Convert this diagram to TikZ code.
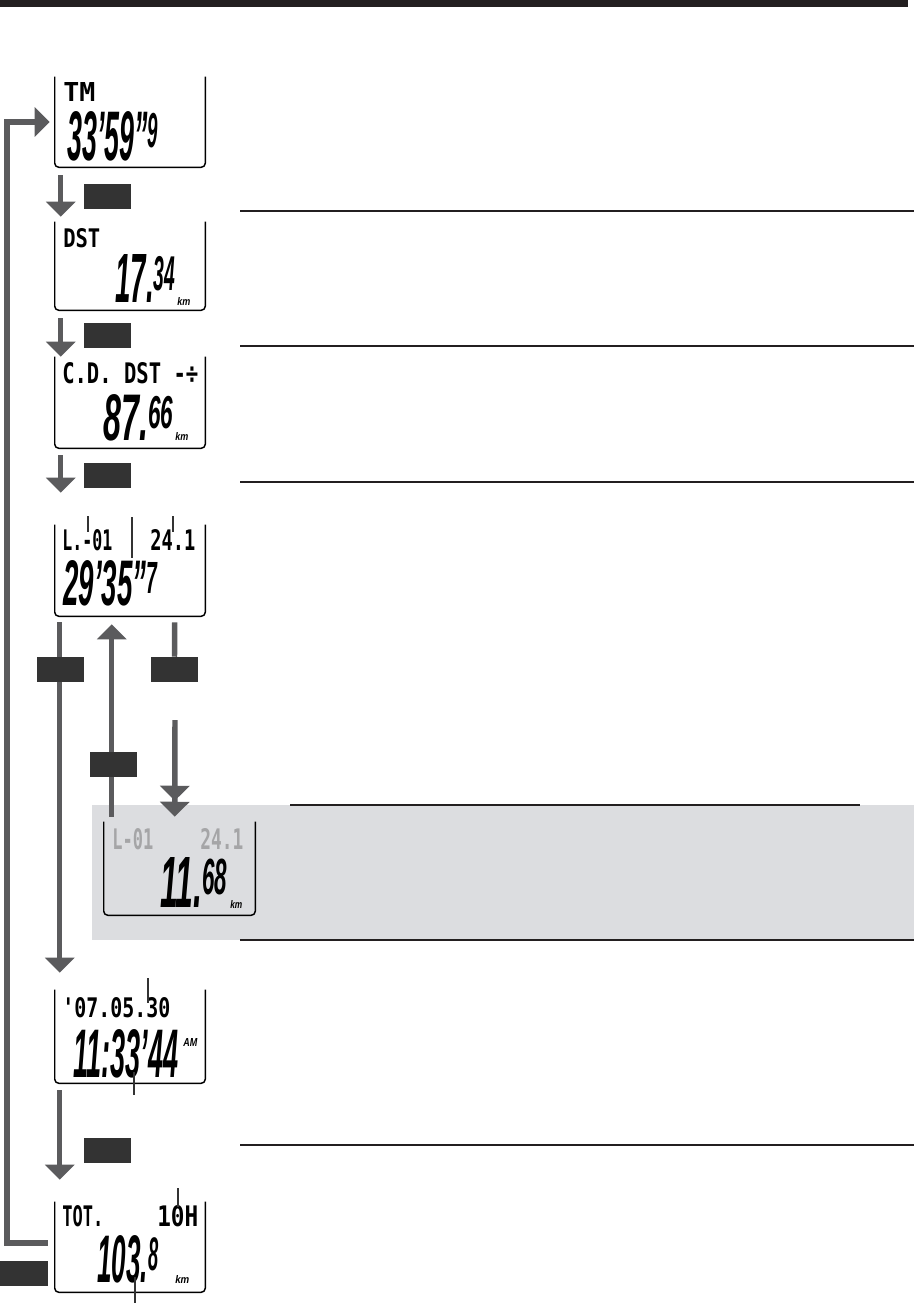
\documentclass[tikz,border=0pt]{standalone}
\usepackage{graphicx}
\usepackage{fontspec}
\setmainfont{Liberation Sans}
\newfontfamily\dotfont{DejaVu Sans Mono}
\usetikzlibrary{arrows.meta}
\definecolor{flowgray}{HTML}{5B5B5D}
\definecolor{btngray}{HTML}{333333}
\definecolor{bandgray}{HTML}{DCDDE0}
\definecolor{rulegray}{HTML}{231F20}
\definecolor{dimtext}{HTML}{A5A5A7}
\newlength\px \setlength\px{0.75pt}
\newcommand\fit[3]{\resizebox{#1\px}{#2\px}{#3}}
\newcommand\segbig[1]{{\fontsize{20pt}{20pt}\selectfont #1}}
\newcommand\segsml[1]{\raisebox{3.5pt}{\fontsize{14pt}{14pt}\selectfont #1}}
\tikzset{
  lcd/.style={rectangle, inner sep=0pt, minimum width=112.5pt, minimum height=68pt},
  frame/.style={draw=black, line width=1.1pt, rounded corners=3pt},
  txt/.style={inner sep=0pt, anchor=north west},
  hdr/.style={txt, font=\dotfont\bfseries},
  seg/.style={txt, font=\bfseries\itshape},
  unit/.style={txt, font=\bfseries\itshape},
  flowline/.style={draw=flowgray, line width=4.1pt},
  flow/.style={flowline, -{Triangle[length=11.25pt, width=21.75pt]}},
  btn/.style={fill=btngray, inner sep=0pt, minimum width=35.25pt, minimum height=18.75pt},
  rule/.style={draw=rulegray, line width=1.5pt},
  leader/.style={draw=btngray, line width=0.9pt}
}
\begin{document}
\begin{tikzpicture}[x=0.75pt, y=-0.75pt]
\useasboundingbox (0,0) rectangle (914,1306);
% top bar and shaded band
\fill[rulegray] (0,0) rectangle (908,7);
\fill[bandgray] (92,805) rectangle (914,940);
% rules on the right
\draw[rule] (240,211) -- (914,211);
\draw[rule, line width=1pt] (240,346) -- (914,346);
\draw[rule] (240,482) -- (914,482);
\draw[rule] (290,805) -- (860,805);
\draw[rule] (240,940) -- (914,940);
\draw[rule, line width=0.8pt] (240,1145) -- (914,1145);
% displays
\node[lcd, minimum height=67.5pt] (tm) at (130,122) {};
\node[lcd, minimum height=66pt] (dst) at (130,266) {};
\node[lcd, minimum height=68.25pt] (cd) at (130,402.5) {};
\node[lcd, minimum height=68.25pt] (lap) at (130,570.5) {};
\node[lcd, minimum width=113.25pt, minimum height=69.75pt] (lapd) at (179.5,868.5) {};
\node[lcd, minimum height=69.75pt] (clk) at (130,1036.5) {};
\node[lcd, minimum height=67.5pt] (tot) at (130,1247) {};
\foreach \d in {tm,dst,cd,lap,lapd,clk,tot}
  \draw[frame] (\d.north west) -- (\d.south west) -- (\d.south east) -- (\d.north east);
% display texts
\node[hdr] (tmhd) at (63,82) {\fit{32}{19}{TM}};
\node[seg] (tmval) at (67,111) {\fit{91}{49}{\segbig{33’59”}\segsml{9}}};
\node[hdr] (dsthd) at (63,228) {\fit{37}{19}{DST}};
\node[seg] (dstval) at (115,254) {\fit{60}{48}{\segbig{17.}\segsml{34}}};
\node[unit] (dstkm) at (177,297) {\fit{13}{8}{km}};
\node[hdr] (cdhd) at (62,362) {\fit{136}{21}{C.D. DST -÷}};
\node[seg] (cdval) at (103,394) {\fit{70}{46}{\segbig{87.}\segsml{66}}};
\node[unit] (cdkm) at (175,432) {\fit{13}{8}{km}};
\node[hdr] (laphd) at (62,529) {\fit{50}{21}{L.-01}};
\node[hdr] (lapno) at (150,529) {\fit{45}{21}{24.1}};
\node[seg] (lapval) at (63,560) {\fit{94}{45}{\segbig{29’35”}\segsml{7}}};
\node[hdr, text=dimtext] (lapdhd) at (112,828) {\fit{41}{21}{L-01}};
\node[hdr, text=dimtext] (lapdno) at (200,828) {\fit{43}{21}{24.1}};
\node[seg] (lapdval) at (160,857) {\fit{67}{50}{\segbig{11.}\segsml{68}}};
\node[unit] (lapdkm) at (230,900) {\fit{12}{8}{km}};
\node[hdr] (clkhd) at (62,997) {\fit{108}{20}{'07.05.30}};
\node[seg] (clkval) at (73,1029) {\fit{105}{48}{\segbig{11:33’44}}};
\node[unit] (clkam) at (183,1038) {\fit{14}{8}{AM}};
\node[hdr] (tothd) at (62,1205) {\fit{41}{21}{TOT.}};
\node[hdr] (totno) at (157,1205) {\fit{41}{21}{10H}};
\node[seg] (totval) at (97,1235) {\fit{61}{47}{\segbig{103.}\segsml{8}}};
\node[unit] (totkm) at (175,1275) {\fit{14}{8}{km}};
% leader lines
\draw[leader] (88,516) -- (88,532);
\draw[leader] (132,517) -- (132,558);
\draw[leader] (173,516) -- (173,532);
\draw[leader] (148,978) -- (148,1003);
\draw[leader] (134,1072) -- (134,1095);
\draw[leader] (178,1188) -- (178,1207);
\draw[leader] (135,1277) -- (135,1303);
% arrows
\coordinate (loop) at (7,122);
\coordinate (rgap) at (175,720);
\draw[flow] ([shift={(6,8)}]tm.south west) -- ([shift={(6,-5)}]dst.north west);
\draw[flow] ([shift={(6,8)}]dst.south west) -- ([shift={(6,0)}]cd.north west);
\draw[flow] ([shift={(6,7)}]cd.south west) -- ([shift={(6,-32)}]lap.north west);
\draw[flow] ([shift={(5,6)}]lap.south west) -- ([shift={(5,-17)}]clk.north west);
\draw[flow] ([shift={(8,-5)}]lapd.north west) -- ([shift={(57,8)}]lap.south west);
\draw[flowline, -{Triangle[length=11.25pt, width=21.75pt, sep=0.75pt] Triangle[length=11.25pt, width=21.75pt]}]
  (rgap) -- ([shift={(71,-5)}]lapd.north west);
\draw[flow] ([shift={(5,7)}]clk.south west) -- ([shift={(5,-22)}]tot.north west);
\draw[flow] ([shift={(-7,-4)}]tot.west) -| (loop) -- ([shift={(-5,0)}]tm.west);
% buttons
\node[btn] (b1) at (107.5,196) {};
\node[btn] (b2) at (107.5,335) {};
\node[btn] (b3) at (107.5,475.5) {};
\node[btn] (lbtn) at (60,669.5) {};
\node[btn] (rbtn) at (174.5,669.5) {};
\node[btn] (mbtn) at (113.5,764.5) {};
\node[btn] (b4) at (107.5,1150.5) {};
\node[btn, minimum width=36pt] (b5) at (24,1273.5) {};
\draw[flowline] ([shift={(120,6)}]lap.south west) -- (rbtn.north);
\end{tikzpicture}
\end{document}
